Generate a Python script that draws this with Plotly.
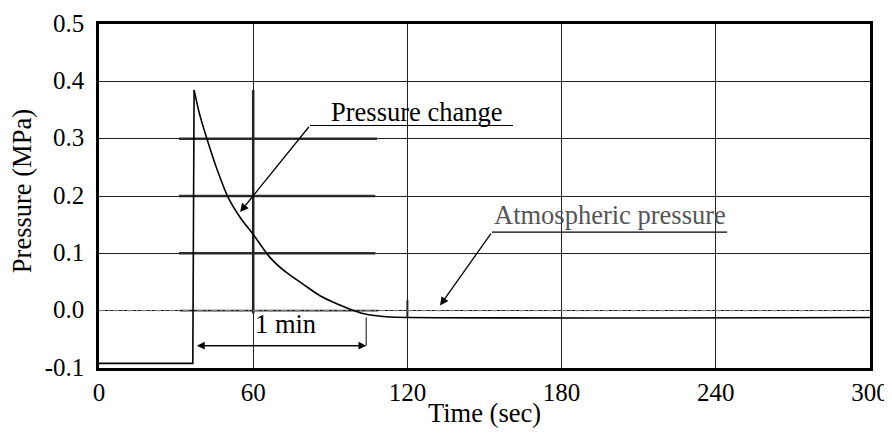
import plotly.graph_objects as go

# ---- data ----
time_s = [0, 36.5, 37.0, 39.0, 41.9, 45.5, 50.3, 55.0, 60.0, 66.5, 72.5, 79.5, 86.0, 92.5, 97.5, 102.7, 108.0, 113.2, 300]
pressure_mpa = [-0.092, -0.092, 0.385, 0.345, 0.301, 0.252, 0.197, 0.162, 0.133, 0.093, 0.068, 0.046, 0.026, 0.012, 0.003, -0.005, -0.009, -0.011, -0.012]

atm_time = [0, 300]
atm_pressure = [0.0, 0.0]

x_ticks = [0, 60, 120, 180, 240, 300]
x_tick_labels = ["0", "60", "120", "180", "240", "300"]
y_ticks = [-0.1, 0.0, 0.1, 0.2, 0.3, 0.4, 0.5]
y_tick_labels = ["-0.1", "0.0", "0.1", "0.2", "0.3", "0.4", "0.5"]

one_min_start, one_min_end, one_min_level = 38.1, 104.0, -0.061

FONT = "Liberation Serif, Times New Roman, serif"
FS_TICK = 25
FS_TEXT = 26.5

fig = go.Figure()

# atmospheric reference line (dashed grey)
fig.add_trace(go.Scatter(x=atm_time, y=atm_pressure, mode="lines",
                         line=dict(color="#8a8a8a", width=1, dash="6px,3px,2px,3px"),
                         hoverinfo="skip", showlegend=False))

# thick overlay segments present in the original figure
for yv, x0, x1, col in [(0.3, 31.1, 108.2, "#333"), (0.2, 31.1, 107.5, "#333"),
                        (0.1, 31.1, 107.5, "#333"), (0.0, 31.5, 108.6, "#9a9a9a")]:
    fig.add_shape(type="line", x0=x0, x1=x1, y0=yv, y1=yv, xref="x", yref="y",
                  line=dict(color=col, width=2.5), layer="below")
fig.add_shape(type="line", x0=60, x1=60, y0=-0.005, y1=0.385, xref="x", yref="y",
              line=dict(color="#222", width=2.5), layer="below")
fig.add_shape(type="line", x0=120, x1=120, y0=-0.012, y1=0.018, xref="x", yref="y",
              line=dict(color="#222", width=2), layer="below")

# pressure curve: step part (straight) and decay part (smooth)
fig.add_trace(go.Scatter(x=time_s[:3], y=pressure_mpa[:3], mode="lines",
                         line=dict(color="black", width=1.6),
                         hoverinfo="skip", showlegend=False))
fig.add_trace(go.Scatter(x=time_s[2:], y=pressure_mpa[2:], mode="lines",
                         line=dict(color="black", width=1.6, shape="spline", smoothing=0.8),
                         hoverinfo="skip", showlegend=False))

# 1 min marker
fig.add_shape(type="line", x0=one_min_end, x1=one_min_end, y0=-0.012, y1=one_min_level,
              xref="x", yref="y", line=dict(color="#555", width=1.5))
for a, b in [(one_min_start, one_min_end), (one_min_end, one_min_start)]:
    fig.add_annotation(x=b, y=one_min_level, ax=a, ay=one_min_level,
                       xref="x", yref="y", axref="x", ayref="y", text="", showarrow=True,
                       arrowhead=2, arrowsize=1.3, arrowwidth=1.2, arrowcolor="black")
fig.add_annotation(x=72.5, y=-0.024, xref="x", yref="y", text="1 min", showarrow=False,
                   font=dict(family=FONT, size=FS_TEXT, color="black"))

# Pressure change label
fig.add_shape(type="line", x0=82.1, x1=161.1, y0=0.323, y1=0.323, xref="x", yref="y",
              line=dict(color="black", width=1.2))
fig.add_annotation(x=54.9, y=0.172, ax=82.1, ay=0.323, xref="x", yref="y", axref="x",
                   ayref="y", text="", showarrow=True, arrowhead=2, arrowsize=1.3,
                   arrowwidth=1.3, arrowcolor="black")
fig.add_annotation(x=123.5, y=0.347, xref="x", yref="y", text="Pressure change",
                   showarrow=False, font=dict(family=FONT, size=FS_TEXT, color="black"))

# Atmospheric pressure label
fig.add_shape(type="line", x0=152.9, x1=244.4, y0=0.137, y1=0.137, xref="x", yref="y",
              line=dict(color="black", width=1.2))
fig.add_annotation(x=132.7, y=0.009, ax=152.9, ay=0.137, xref="x", yref="y", axref="x",
                   ayref="y", text="", showarrow=True, arrowhead=2, arrowsize=1.3,
                   arrowwidth=1.3, arrowcolor="black")
fig.add_annotation(x=198.8, y=0.166, xref="x", yref="y", text="Atmospheric pressure",
                   showarrow=False, font=dict(family=FONT, size=FS_TEXT, color="#555"))

# axis titles
fig.add_annotation(x=0.5, y=-0.13, xref="paper", yref="paper", text="Time (sec)",
                   showarrow=False, xanchor="center", yanchor="middle",
                   font=dict(family=FONT, size=FS_TEXT, color="black"))
fig.add_annotation(x=-0.0999, y=0.514, xref="paper", yref="paper", text="Pressure (MPa)",
                   showarrow=False, xanchor="center", yanchor="middle", textangle=-90,
                   font=dict(family=FONT, size=FS_TEXT, color="black"))

# the page body adds an 8px offset, so the figure is sized to fit inside the window
fig.update_layout(
    width=884, height=437,
    margin=dict(l=91, r=22, t=15.5, b=77),
    paper_bgcolor="white", plot_bgcolor="white",
    font=dict(family=FONT, size=FS_TICK, color="black"),
    xaxis=dict(range=[0, 300], tickvals=x_ticks, ticktext=x_tick_labels,
               showgrid=True, gridcolor="#222", gridwidth=1, zeroline=False,
               showline=True, linecolor="black", linewidth=2.5, mirror=True,
               ticks="", ticklabelstandoff=0, automargin=False,
               ticklabeloverflow="allow",
               tickfont=dict(family=FONT, size=FS_TICK)),
    yaxis=dict(range=[-0.1, 0.5], tickvals=y_ticks, ticktext=y_tick_labels,
               showgrid=True, gridcolor="#222", gridwidth=1, zeroline=False,
               showline=True, linecolor="black", linewidth=2.5, mirror=True,
               ticks="", ticklabelstandoff=7, ticklabelshift=-1, automargin=False,
               ticklabeloverflow="allow",
               tickfont=dict(family=FONT, size=FS_TICK)),
)

fig.write_html("out.html")
